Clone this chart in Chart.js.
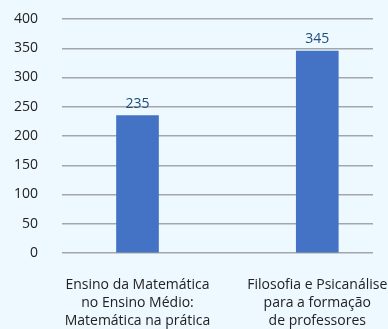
<!DOCTYPE html>
<html>
<head>
<meta charset="utf-8">
<script src="https://cdn.jsdelivr.net/npm/chart.js@4"></script>
<style>
  html, body { margin: 0; padding: 0; background: #eef8ff; }
  #wrap { width: 388px; height: 329px; }
</style>
</head>
<body>
<div id="wrap"><canvas id="BarChart"></canvas></div>
<script>
const categories = [
  ['Ensino da Matemática', 'no Ensino Médio:', 'Matemática na prática'],
  ['Filosofia e Psicanálise', 'para a formação', 'de professores']
];
const values = [235, 345];
const yTicks = [0, 50, 100, 150, 200, 250, 300, 350, 400];

// draws the value above each bar
const valueLabels = {
  id: 'valueLabels',
  afterDatasetsDraw(chart) {
    const ctx = chart.ctx;
    const meta = chart.getDatasetMeta(0);
    ctx.save();
    ctx.font = '14px "Open Sans", sans-serif';
    ctx.fillStyle = '#1f4e79';
    ctx.textAlign = 'center';
    ctx.textBaseline = 'alphabetic';
    meta.data.forEach((bar, i) => {
      ctx.fillText(values[i], bar.x, bar.y - 8);
    });
    ctx.restore();
  }
};

const ctx = document.getElementById('BarChart').getContext('2d');
const chart = new Chart(ctx, {
  type: 'bar',
  data: {
    datasets: [{
      data: values.map((v, i) => ({ x: i, y: v })),
      backgroundColor: '#4472c4',
      barThickness: 42
    }]
  },
  options: {
    responsive: true,
    maintainAspectRatio: false,
    animation: false,
    layout: { padding: { top: 19, right: 15, left: 0, bottom: 0 } },
    plugins: { legend: { display: false }, tooltip: { enabled: false } },
    scales: {
      x: {
        type: 'linear',
        offset: false,
        min: -0.42,
        max: 1.31,
        afterBuildTicks: (scale) => { scale.ticks = categories.map((c, i) => ({ value: i })); },
        afterFit: (scale) => {
          scale.height = 76;
          // let the long labels run past the plot edges
          scale.paddingLeft = 0;
          scale.paddingRight = 0;
        },
        grid: { display: false, offset: false },
        border: { display: false },
        ticks: {
          padding: 15,
          color: '#222',
          font: { family: '"Open Sans", sans-serif', size: 14, lineHeight: 1.3 },
          maxRotation: 0,
          autoSkip: false,
          callback: (value) => categories[value]
        }
      },
      y: {
        min: 0,
        max: 400,
        afterBuildTicks: (scale) => { scale.ticks = yTicks.map(v => ({ value: v })); },
        afterFit: (scale) => {
          scale.width = 62;
          scale.paddingTop = 9;
          scale.paddingBottom = 9;
        },
        grid: { color: '#a3a7ab', lineWidth: 1.5, drawTicks: false },
        border: { display: false },
        ticks: {
          padding: 24,
          color: '#222',
          font: { family: '"Open Sans", sans-serif', size: 14 }
        }
      }
    }
  },
  plugins: [valueLabels]
});
</script>
</body>
</html>
